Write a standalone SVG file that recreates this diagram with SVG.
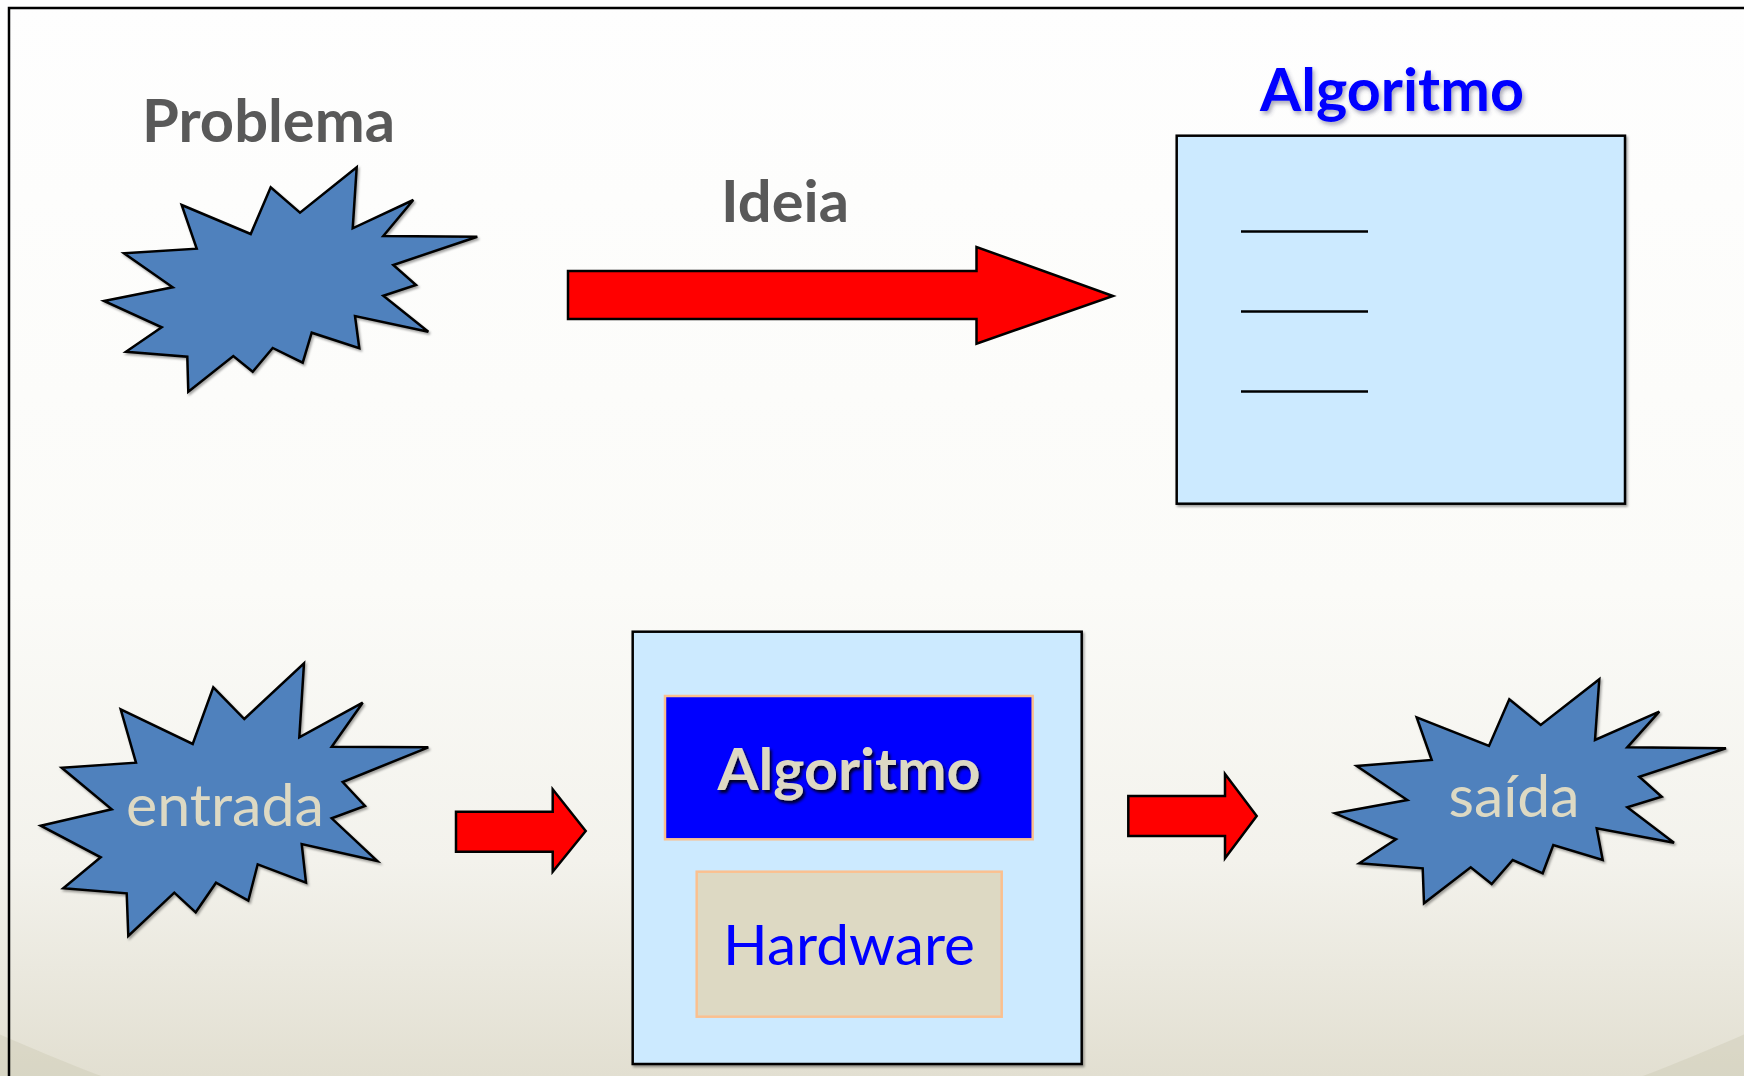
<svg xmlns="http://www.w3.org/2000/svg" width="1744" height="1076" viewBox="0 0 1744 1076">
  <style>
    .star { fill: #4f81bd; stroke: #000000; stroke-width: 2.5; stroke-linejoin: miter; }
    .arrow { fill: #ff0000; stroke: #000000; stroke-width: 2.5; stroke-linejoin: miter; }
    .panel { fill: #cceaff; stroke: #000000; stroke-width: 2.5; }
    .rule { stroke: #000000; stroke-width: 2.5; }
    .title { font-family: Lato, "Liberation Sans", sans-serif; font-weight: bold; text-anchor: middle; }
    .plain { font-family: Lato, "Liberation Sans", sans-serif; text-anchor: middle; }
  </style>
  <defs>
    <linearGradient id="bg" x1="0" y1="0" x2="0" y2="1">
      <stop offset="0" stop-color="#fefefe"/>
      <stop offset="0.55" stop-color="#fbfbf8"/>
      <stop offset="0.8" stop-color="#f3f2ec"/>
      <stop offset="1" stop-color="#e2dfd1"/>
    </linearGradient>
    <filter id="shadowBlue" x="-10%" y="-20%" width="120%" height="150%">
      <feDropShadow dx="2" dy="3" stdDeviation="2" flood-color="#404060" flood-opacity="0.45"/>
    </filter>
    <filter id="shadowDark" x="-10%" y="-20%" width="120%" height="150%">
      <feDropShadow dx="2" dy="3" stdDeviation="1.5" flood-color="#000000" flood-opacity="0.85"/>
    </filter>
    <filter id="boxShadow" x="-5%" y="-5%" width="110%" height="110%">
      <feDropShadow dx="1.5" dy="2" stdDeviation="1" flood-color="#000000" flood-opacity="0.35"/>
    </filter>
  </defs>

  <rect x="0" y="0" width="1744" height="1076" fill="url(#bg)"/>
  <path d="M0,0 H1744 V1076 H0 Z M-800,0 A1672,1213 0 0 0 2544,0 A1672,1213 0 0 0 -800,0 Z" fill="#cbc7b2" fill-opacity="0.4" fill-rule="evenodd"/>
  <rect x="9" y="8" width="1760" height="1100" fill="none" stroke="#000000" stroke-width="2.5"/>

  <g id="problema">
    <polygon class="star" filter="url(#boxShadow)" points="181.7,205 250.7,234 270.7,187.3 300,212.7 356.7,167.3 352.7,228.3 413.3,200 383.3,236 477.3,236.7 393.3,265 416,285 383.3,295.7 428.3,331.7 355,316 359.3,348.3 311.7,332.7 302.7,362.7 272.7,348 252.7,371.7 233.3,356 188.3,391.7 187.3,356.7 126,351.7 161.7,327.3 104,301 172.7,287.3 124,253.3 196.7,248.7"/>
    <text class="title" x="268.5" y="141.5" font-size="59" fill="#595959" textLength="253" lengthAdjust="spacingAndGlyphs">Problema</text>
  </g>

  <g id="algoritmo-box">
    <text class="title" x="1392" y="110.5" font-size="59" fill="#0000ff" filter="url(#shadowBlue)" textLength="264" lengthAdjust="spacingAndGlyphs">Algoritmo</text>
    <rect class="panel" filter="url(#boxShadow)" x="1176.7" y="135.7" width="448.3" height="368"/>
    <line class="rule" x1="1241" y1="231.5" x2="1368" y2="231.5"/>
    <line class="rule" x1="1241" y1="311.5" x2="1368" y2="311.5"/>
    <line class="rule" x1="1241" y1="391.5" x2="1368" y2="391.5"/>
  </g>

  <g id="entrada">
    <polygon class="star" filter="url(#boxShadow)" points="120.7,709.3 192.7,744 213.3,687.3 244.3,719 304,663.3 299.3,737.3 362.7,702.7 331.7,746.7 428.3,747.3 342.7,782 365,806 331.7,818.3 377.3,861 301.7,844 306,882.7 257.7,864.3 248.3,900.7 216,882.7 195.7,912.3 174.3,892.7 128.3,936 126.7,893.3 63.3,888.3 100.7,857.3 40.7,825.7 111.7,809.3 61.7,767.7 136,762.7"/>
    <text class="plain" x="225" y="826" font-size="59" fill="#ddd9c3" textLength="198" lengthAdjust="spacingAndGlyphs">entrada</text>
  </g>

  <g id="sistema">
    <rect class="panel" filter="url(#boxShadow)" x="632.7" y="631.7" width="449" height="432.3"/>
    <rect x="665" y="696" width="367.7" height="143.3" fill="#0000ff" stroke="#fac090" stroke-width="2.5"/>
    <text class="title" x="849" y="790" font-size="57" fill="#ddd9c3" filter="url(#shadowDark)" textLength="263" lengthAdjust="spacingAndGlyphs">Algoritmo</text>
    <rect x="696.7" y="871.7" width="305" height="145" fill="#ddd9c3" stroke="#fac090" stroke-width="2.5"/>
    <text class="plain" x="849" y="965" font-size="57" fill="#0000ff" textLength="252" lengthAdjust="spacingAndGlyphs">Hardware</text>
  </g>

  <g id="saida">
    <polygon class="star" filter="url(#boxShadow)" points="1416.7,717.3 1489,746 1509.3,699.3 1540.7,725 1599.3,679.3 1595,740 1659.3,711.7 1627.3,747.3 1726,748.3 1639.3,776.7 1661.7,796.7 1627.3,807.3 1674,842.7 1596.7,828.3 1602.7,860 1553.3,845 1542.7,873.3 1512.7,860 1491.7,884 1470.7,867.3 1424,903.3 1422.7,868.3 1359.3,863.3 1396,839.3 1335,813.3 1407.3,800 1356.7,766 1431.7,760"/>
    <text class="plain" x="1514" y="816.7" font-size="59" fill="#ddd9c3" textLength="131" lengthAdjust="spacingAndGlyphs">saída</text>
  </g>

  <g id="connectors">
    <polygon class="arrow" points="568,271 976.5,271 976.5,247 1113,296 976.5,343.7 976.5,319 568,319"/>
    <text class="title" x="785" y="222" font-size="57" fill="#595959" textLength="128" lengthAdjust="spacingAndGlyphs">Ideia</text>
    <polygon class="arrow" points="456,811.7 552.7,811.7 552.7,789.3 585.7,831 552.7,871.7 552.7,851.7 456,851.7"/>
    <polygon class="arrow" points="1128.3,796 1225,796 1225,774 1256.7,816 1225,858.3 1225,836 1128.3,836"/>
  </g>
</svg>
